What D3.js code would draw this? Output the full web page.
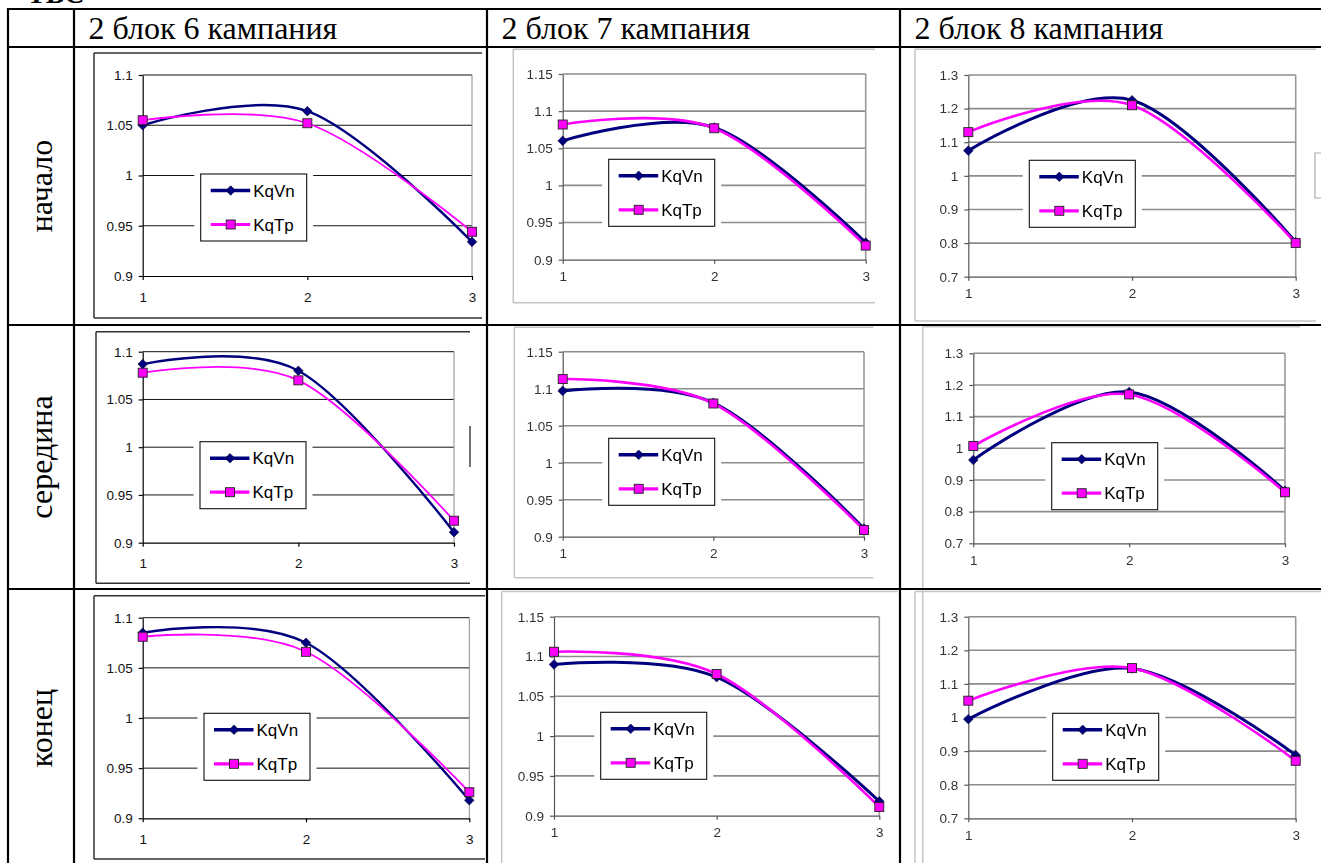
<!DOCTYPE html>
<html>
<head>
<meta charset="utf-8">
<script src="https://cdn.jsdelivr.net/npm/d3@7"></script>
<style>
  html, body { margin: 0; padding: 0; background: #fff; }
  svg { display: block; }
</style>
</head>
<body>
<svg id="page" width="1321" height="863"></svg>
<script>
// ---------- data ----------
const rowLabels = ["начало", "середина", "конец"];
const campaignLabels = ["2 блок 6 кампания", "2 блок 7 кампания", "2 блок 8 кампания"];
const seriesNames = ["KqVn", "KqTp"];
const xCategories = [1, 2, 3];

const yTicksC6 = [0.9, 0.95, 1, 1.05, 1.1];
const yTicksC7 = [0.9, 0.95, 1, 1.05, 1.1, 1.15];
const yTicksC8 = [0.7, 0.8, 0.9, 1, 1.1, 1.2, 1.3];

// campaign 6
const kqVnC6Start = [1.050, 1.064, 0.934];
const kqTpC6Start = [1.055, 1.052, 0.944];
const kqVnC6Mid   = [1.087, 1.080, 0.911];
const kqTpC6Mid   = [1.078, 1.070, 0.923];
const kqVnC6End   = [1.085, 1.075, 0.918];
const kqTpC6End   = [1.081, 1.066, 0.926];
// campaign 7
const kqVnC7Start = [1.060, 1.078, 0.923];
const kqTpC7Start = [1.082, 1.077, 0.919];
const kqVnC7Mid   = [1.097, 1.081, 0.911];
const kqTpC7Mid   = [1.113, 1.080, 0.909];
const kqVnC7End   = [1.090, 1.074, 0.918];
const kqTpC7End   = [1.106, 1.078, 0.911];
// campaign 8
const kqVnC8Start = [1.075, 1.225, 0.803];
const kqTpC8Start = [1.130, 1.210, 0.800];
const kqVnC8Mid   = [0.963, 1.178, 0.866];
const kqTpC8Mid   = [1.007, 1.170, 0.861];
const kqVnC8End   = [0.995, 1.146, 0.888];
const kqTpC8End   = [1.050, 1.147, 0.871];

// ---------- layout (row-major: start, middle, end × campaign 6, 7, 8) ----------
const cells = [
  { vn: kqVnC6Start, tp: kqTpC6Start, ticks: yTicksC6 },
  { vn: kqVnC7Start, tp: kqTpC7Start, ticks: yTicksC7 },
  { vn: kqVnC8Start, tp: kqTpC8Start, ticks: yTicksC8 },
  { vn: kqVnC6Mid,   tp: kqTpC6Mid,   ticks: yTicksC6 },
  { vn: kqVnC7Mid,   tp: kqTpC7Mid,   ticks: yTicksC7 },
  { vn: kqVnC8Mid,   tp: kqTpC8Mid,   ticks: yTicksC8 },
  { vn: kqVnC6End,   tp: kqTpC6End,   ticks: yTicksC6 },
  { vn: kqVnC7End,   tp: kqTpC7End,   ticks: yTicksC7 },
  { vn: kqVnC8End,   tp: kqTpC8End,   ticks: yTicksC8 }
];

// plot rectangles [x0, x1, yTop, yBottom]
const plotBoxes = [
  [142.7, 472, 75, 276],   [562.7, 865.7, 74, 259.7],    [968.3, 1295.7, 75, 276.7],
  [142.7, 454, 351.7, 542.7], [562.7, 864, 351.7, 536.7], [973.3, 1285, 353.3, 543.3],
  [142.7, 469.3, 617.7, 818.3], [554, 879.3, 616.7, 815.7], [968.3, 1295.7, 616.7, 818.3]
];
// legend top-left corners
const legendOrigins = [
  [200.7, 174], [608.7, 159.3], [1029.3, 160.3],
  [200, 441.7], [608.7, 438.3], [1051.7, 442.7],
  [204, 713.3], [600.7, 712.3], [1052.7, 713.3]
];
// chart frames [left, top, right, bottom|null]
const frames = [
  [94, 53, 482, 318],     [513.3, 49.3, 875, 302.7],   [915, 49.3, 1316, 321],
  [96, 331.7, 470, 583.3], [514.3, 327.3, 873.3, 577.7], [922.7, 326.7, 1300, null],
  [94, 595.7, 485, 859],   [501.7, 591.5, 898, null],    [915, 591.5, 1321, null]
];

const columnStyles = [
  { frame: "#333", frameW: 1.5, grid: "#111", gridW: 1, border: "#8a8a8a", axis: "#000",
    label: "#111", vnW: 2.4, tpW: 1.8, xPad: 12, blur: false },
  { frame: "#c4c4c4", frameW: 1.5, grid: "#8c8c8c", gridW: 1.6, border: "#9a9a9a", axis: "#555",
    label: "#333", vnW: 3, tpW: 2.6, xPad: 8, blur: true },
  { frame: "#c4c4c4", frameW: 1.5, grid: "#8c8c8c", gridW: 1.6, border: "#9a9a9a", axis: "#555",
    label: "#333", vnW: 3, tpW: 2.6, xPad: 8, blur: true }
];

const navy = "#00007f";
const magenta = "#ff00ff";

const svg = d3.select("#page");
svg.append("rect").attr("width", 1321).attr("height", 863).attr("fill", "#fff");

const defs = svg.append("defs");
defs.append("filter").attr("id", "soft")
  .attr("x", "-5%").attr("y", "-5%").attr("width", "110%").attr("height", "110%")
  .append("feGaussianBlur").attr("stdDeviation", 0.45);

// fragment of the caption above the table
svg.append("text").attr("x", 27).attr("y", 3)
  .attr("font-family", "'Liberation Serif','Times New Roman',serif")
  .attr("font-size", 28).attr("font-weight", "bold").text("ТВС");

function diamond(r) {
  return `M0,${-r}L${r},0L0,${r}L${-r},0Z`;
}

function drawMarker(g, kind, cx, cy) {
  if (kind === 0) {
    g.append("path").attr("d", diamond(4.8))
      .attr("transform", `translate(${cx},${cy})`)
      .attr("fill", navy).attr("stroke", "#000033").attr("stroke-width", 0.6);
  } else {
    g.append("rect").attr("x", cx - 4.5).attr("y", cy - 4.5)
      .attr("width", 9).attr("height", 9)
      .attr("fill", magenta).attr("stroke", "#222").attr("stroke-width", 0.9);
  }
}

cells.forEach((cell, i) => {
  const col = i % 3;
  const st = columnStyles[col];
  const [px0, px1, py0, py1] = plotBoxes[i];
  const g = svg.append("g");
  if (st.blur) g.attr("filter", "url(#soft)");

  // chart frame
  const [fl, ft, fr, fb] = frames[i];
  const fg = g.append("g").attr("fill", "none").attr("stroke", st.frame).attr("stroke-width", st.frameW);
  fg.append("line").attr("x1", fl).attr("x2", fr).attr("y1", ft).attr("y2", ft);
  fg.append("line").attr("x1", fl).attr("x2", fl).attr("y1", ft).attr("y2", fb === null ? 863 : fb);
  if (fb !== null) fg.append("line").attr("x1", fl).attr("x2", fr).attr("y1", fb).attr("y2", fb);

  const x = d3.scalePoint().domain(xCategories).range([px0, px1]);
  const y = d3.scaleLinear().domain([cell.ticks[0], cell.ticks[cell.ticks.length - 1]]).range([py1, py0]);

  // gridlines
  g.append("g").selectAll("line").data(cell.ticks.slice(1)).join("line")
    .attr("x1", px0).attr("x2", px1)
    .attr("y1", d => y(d)).attr("y2", d => y(d))
    .attr("stroke", st.grid).attr("stroke-width", st.gridW);
  // right border of plot area
  g.append("line").attr("x1", px1).attr("x2", px1).attr("y1", py0).attr("y2", py1)
    .attr("stroke", st.border).attr("stroke-width", st.gridW);

  // axes
  const yAxis = d3.axisLeft(y).tickValues(cell.ticks).tickSize(4).tickSizeOuter(0)
    .tickPadding(6).tickFormat(d => String(d));
  const ya = g.append("g").attr("transform", `translate(${px0},0)`).call(yAxis);
  const xAxis = d3.axisBottom(x).tickSize(4).tickSizeOuter(0).tickPadding(st.xPad);
  const xa = g.append("g").attr("transform", `translate(0,${py1})`).call(xAxis);
  [ya, xa].forEach(a => {
    a.select(".domain").attr("stroke", st.axis).attr("stroke-width", 1.2);
    a.selectAll(".tick line").attr("stroke", st.axis).attr("stroke-width", 1.2);
    a.selectAll(".tick text").attr("fill", st.label)
      .attr("font-family", "Arial, 'Liberation Sans', sans-serif").attr("font-size", 13.5);
  });

  // legend
  const [lx, ly] = legendOrigins[i];
  const lw = 106, lh = 67;
  const lg = g.append("g");
  lg.append("rect").attr("x", lx - 6.5).attr("y", ly).attr("width", lw + 13).attr("height", lh)
    .attr("fill", "#fff");
  lg.append("rect").attr("x", lx).attr("y", ly).attr("width", lw).attr("height", lh)
    .attr("fill", "#fff").attr("stroke", "#111").attr("stroke-width", 1.1);
  seriesNames.forEach((name, k) => {
    const ey = ly + (k === 0 ? 16.5 : 50.5);
    lg.append("line").attr("x1", lx + 10).attr("x2", lx + 49.5).attr("y1", ey).attr("y2", ey)
      .attr("stroke", k === 0 ? navy : magenta).attr("stroke-width", k === 0 ? 3.6 : 3.2);
    drawMarker(lg, k, lx + 30, ey);
    lg.append("text").attr("x", lx + 52.5).attr("y", ey).attr("dy", "0.36em")
      .attr("font-family", "Arial, 'Liberation Sans', sans-serif").attr("font-size", 17)
      .attr("fill", "#000").text(name);
  });

  // series
  const line = d3.line()
    .x((d, j) => x(xCategories[j]))
    .y(d => y(d))
    .curve(d3.curveCardinal);
  [cell.vn, cell.tp].forEach((vals, k) => {
    g.append("path").attr("d", line(vals)).attr("fill", "none")
      .attr("stroke", k === 0 ? navy : magenta)
      .attr("stroke-width", k === 0 ? st.vnW : st.tpW)
      .attr("stroke-linejoin", "round");
  });
  [cell.vn, cell.tp].forEach((vals, k) => {
    vals.forEach((v, j) => drawMarker(g, k, x(xCategories[j]), y(v)));
  });
});

// stray edges of neighbouring objects
svg.append("line").attr("x1", 470).attr("x2", 470).attr("y1", 426).attr("y2", 467)
  .attr("stroke", "#444").attr("stroke-width", 1.5);
svg.append("path").attr("d", "M1321,153H1315V198H1321").attr("fill", "none")
  .attr("stroke", "#aaa").attr("stroke-width", 1.2);

// ---------- table ----------
const tableCols = [8, 74, 487, 900];
const tableRows = [9, 47, 325, 589];
const tg = svg.append("g").attr("stroke", "#000").attr("stroke-width", 2.2);
tableCols.forEach(cx => tg.append("line").attr("x1", cx).attr("x2", cx).attr("y1", 8).attr("y2", 863));
tableRows.forEach(ry => tg.append("line").attr("x1", 7).attr("x2", 1321).attr("y1", ry).attr("y2", ry));

const serif = "'Liberation Serif','Times New Roman',serif";
campaignLabels.forEach((t, k) => {
  svg.append("text").attr("x", tableCols[k + 1] + 14.5).attr("y", 39)
    .attr("font-family", serif).attr("font-size", 32).attr("fill", "#000").text(t);
});
const rowCenters = [186, 457, 728];
rowLabels.forEach((t, k) => {
  svg.append("text").attr("transform", `translate(51.5,${rowCenters[k]}) rotate(-90)`)
    .attr("text-anchor", "middle")
    .attr("font-family", serif).attr("font-size", 32).attr("fill", "#000").text(t);
});
</script>
</body>
</html>
